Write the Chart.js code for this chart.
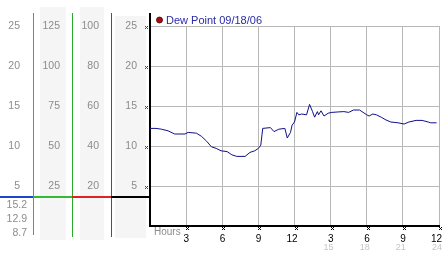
<!DOCTYPE html>
<html>
<head>
<meta charset="utf-8">
<script src="https://cdn.jsdelivr.net/npm/chart.js@4/dist/chart.umd.min.js"></script>
<style>
  html, body { margin: 0; padding: 0; background: #fff; }
  canvas { display: block; }
</style>
</head>
<body>
<canvas id="dew" width="442" height="253"></canvas>
<script>
// readings, hours since midnight
const hours = [0, 0.5, 0.95, 1.5, 2.05, 2.9, 3.17, 3.86, 4.28, 4.7, 5.1, 5.5, 5.9, 6.4, 6.8, 7.2, 7.9,
  8.3, 8.7, 9.0, 9.2, 9.36, 10.0, 10.3, 10.7, 11.2, 11.4, 11.67, 11.8, 12.0, 12.2, 12.36, 12.6,
  13.0, 13.25, 13.5, 13.67, 13.9, 14.0, 14.2, 14.45, 14.8, 15.1, 15.55, 16.1, 16.5, 16.9, 17.4,
  17.6, 18.0, 18.2, 18.5, 18.8, 19.2, 19.6, 20.0, 20.6, 21.1, 21.5, 22.1, 22.6, 23.1, 23.3, 23.8];
const dewPoint = [12.2, 12.2, 12.1, 11.9, 11.5, 11.5, 11.7, 11.6, 11.2, 10.6, 9.9, 9.7, 9.4, 9.3, 8.9, 8.7, 8.7,
  9.2, 9.4, 9.7, 10.1, 12.2, 12.3, 11.8, 12.1, 12.2, 11.0, 11.7, 12.6, 13.0, 14.2, 13.9, 14.0,
  13.9, 15.2, 14.3, 13.6, 14.3, 13.9, 14.4, 13.75, 14.1, 14.2, 14.25, 14.3, 14.2, 14.5, 14.5,
  14.3, 13.9, 13.75, 14.0, 13.9, 13.6, 13.25, 13.0, 12.9, 12.75, 13.0, 13.2, 13.2, 13.0, 12.9, 12.9];
const seriesLabel = "Dew Point 09/18/06";

// extra scales on the left (max, step)
const blueAxis = [25, 5];
const greenAxis = [125, 25];
const redAxis = [100, 20];
const markerLevel = 3.6;

const grey = "#8c8c8c";
Chart.defaults.font.family = '"Liberation Sans", Arial, sans-serif';
Chart.defaults.font.size = 10.5;

function fixWidth(w) {
  return s => { s.width = w; s.paddingTop = 0; s.paddingBottom = 0; };
}
function fixHeight(h) {
  return s => { s.height = h; s.paddingLeft = 0; s.paddingRight = 0; };
}
function sideAxis(max, step, weight, width, pad) {
  return {
    position: "left", min: 0, max: max, weight: weight,
    ticks: { stepSize: step, padding: pad, color: grey, callback: v => v === 0 ? "" : v },
    grid: { display: false, drawTicks: false },
    border: { display: false },
    afterFit: fixWidth(width)
  };
}

// tiny tick mark like the original
function mark(ctx, x, y, col) {
  ctx.fillStyle = col;
  [[0, 0], [2, 0], [1, 1], [0, 2], [2, 2]].forEach(p => ctx.fillRect(x + p[0], y + p[1], 1, 1));
}

const decor = {
  id: "decor",
  beforeDraw(chart) {
    const ctx = chart.ctx, s = chart.scales;
    ctx.save();
    ctx.fillStyle = "#fff";
    ctx.fillRect(0, 0, chart.width, chart.height);
    ctx.fillStyle = "#f5f5f5";
    ctx.fillRect(Math.round(s.yGreen.left) + 7, 7, 26, 233);
    ctx.fillRect(Math.round(s.yRed.left) + 8, 7, 24, 233);
    ctx.fillRect(Math.round(s.y.left) + 4, 16, 31, 222);
    ctx.restore();
  },
  afterDraw(chart) {
    const ctx = chart.ctx, s = chart.scales, area = chart.chartArea;
    const r = v => Math.round(v);
    ctx.save();
    // column lines
    ctx.fillStyle = "#20a0e0"; ctx.fillRect(r(s.yBlue.right), 13, 1, 222);
    ctx.fillStyle = "#2aa82a"; ctx.fillRect(r(s.yGreen.right), 13, 1, 224);
    ctx.fillStyle = "#c82020"; ctx.fillRect(r(s.yRed.right), 13, 1, 224);
    ctx.fillStyle = "#000"; ctx.fillRect(r(area.left) - 1, 13, 2, r(area.top) - 13);
    // coloured level line
    const ly = r(s.y.getPixelForValue(markerLevel)) - 1;
    ctx.fillStyle = "#2244cc"; ctx.fillRect(0, ly, r(s.yBlue.right), 2);
    ctx.fillStyle = "#33bb33"; ctx.fillRect(r(s.yGreen.left), ly, r(s.yGreen.width), 2);
    ctx.fillStyle = "#dd2222"; ctx.fillRect(r(s.yRed.left), ly, r(s.yRed.width), 2);
    ctx.fillStyle = "#000"; ctx.fillRect(r(s.y.left), ly, r(s.y.width) - 1, 2);
    // tick marks
    s.x.ticks.forEach(t => {
      if (t.value > 0) mark(ctx, r(s.x.getPixelForValue(t.value)), r(area.bottom) + 1, "#000");
    });
    s.y.ticks.forEach(t => {
      if (t.value > 0) mark(ctx, r(area.left) - 5, r(s.y.getPixelForValue(t.value)), "#444");
    });
    // stats
    ctx.font = '10.5px "Liberation Sans", Arial, sans-serif';
    ctx.fillStyle = grey;
    ctx.textAlign = "right";
    ctx.textBaseline = "middle";
    const stats = [Math.max(...dewPoint), dewPoint[dewPoint.length - 1], Math.min(...dewPoint)];
    stats.forEach((v, i) => ctx.fillText(v.toFixed(1), 27, 205 + i * 14));
    // hours label
    ctx.textAlign = "left";
    ctx.font = '10px "Liberation Sans", Arial, sans-serif';
    ctx.fillText("Hours", area.left + 4, 232);
    // legend
    ctx.beginPath();
    ctx.arc(area.left + 9.5, 20, 3, 0, Math.PI * 2);
    ctx.fillStyle = "#a01010";
    ctx.fill();
    ctx.strokeStyle = "#500000";
    ctx.lineWidth = 0.8;
    ctx.stroke();
    ctx.font = '11px "Liberation Sans", Arial, sans-serif';
    ctx.fillStyle = "#2a2aa8";
    ctx.fillText(chart.data.datasets[0].label, area.left + 16, 20.5);
    ctx.restore();
  }
};

new Chart(document.getElementById("dew"), {
  type: "line",
  data: {
    datasets: [{
      label: seriesLabel,
      data: hours.map((h, i) => ({ x: h, y: dewPoint[i] })),
      borderColor: "#10108a",
      borderWidth: 1,
      pointRadius: 0,
      tension: 0,
      xAxisID: "x",
      yAxisID: "y"
    }]
  },
  options: {
    responsive: false,
    animation: false,
    devicePixelRatio: 1,
    layout: { padding: { top: 26, right: 3, left: 0, bottom: 0 } },
    plugins: { legend: { display: false }, tooltip: { enabled: false } },
    scales: {
      x: {
        type: "linear", position: "bottom", min: 0, max: 24, weight: 0,
        ticks: {
          stepSize: 3, align: "end", labelOffset: 3, padding: 7, color: "#000",
          font: { size: 10 }, maxRotation: 0, autoSkip: false,
          callback: v => v === 0 ? "" : (v > 12 ? v - 12 : v)
        },
        grid: { color: "#b8b8b8", drawTicks: false },
        border: { color: "#000", width: 2 },
        afterFit: fixHeight(16)
      },
      x2: {
        type: "linear", position: "bottom", min: 0, max: 24, weight: 1,
        ticks: {
          stepSize: 3, align: "end", labelOffset: 3, padding: 0, color: "#c4c4c4",
          font: { size: 9 }, maxRotation: 0, autoSkip: false,
          callback: v => v > 12 ? v : ""
        },
        grid: { display: false, drawTicks: false },
        border: { display: false },
        afterFit: fixHeight(11)
      },
      y: {
        position: "left", min: 0, max: 25, weight: 0,
        ticks: { stepSize: 5, padding: 13, color: grey, callback: v => v === 0 ? "" : v },
        grid: { color: "#b8b8b8", drawTicks: false },
        border: { color: "#000", width: 2 },
        afterFit: fixWidth(39)
      },
      yRed: sideAxis(redAxis[0], redAxis[1], 1, 39, 12),
      yGreen: sideAxis(greenAxis[0], greenAxis[1], 2, 39, 12),
      yBlue: sideAxis(blueAxis[0], blueAxis[1], 3, 33, 13)
    }
  },
  plugins: [decor]
});
</script>
</body>
</html>
